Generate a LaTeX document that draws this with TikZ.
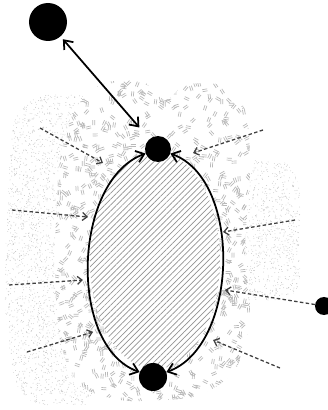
\documentclass[tikz,border=0pt]{standalone}
\usetikzlibrary{arrows.meta, patterns.meta, calc}
\tikzset{
    bead/.style={circle, fill=black, inner sep=0pt},
    pull/.style={{Straight Barb[length=2.3mm,width=3.6mm]}-{Straight Barb[length=2.3mm,width=3.6mm]}, line width=1.5pt},
    pushin/.style={-{Straight Barb[length=1.4mm,width=2.4mm]}, dash pattern=on 3pt off 2pt, line width=1.1pt, draw=black!75},
    grain/.style={draw=gray!55, line width=0.6pt},
    speck/.style={fill=gray!45}
}
\begin{document}
\begin{tikzpicture}[x=0.03cm, y=0.03cm]
  \useasboundingbox (0,0) rectangle (328,410);
  \pgfmathsetseed{11}
  \begin{scope}
    \clip plot[smooth cycle] coordinates {(15,290) (45,315) (90,310) (100,260) (95,160) (100,60) (85,5) (40,5) (15,30) (5,110) (8,210)};
    \foreach \i in {1,...,3000} {\fill[speck] (5+95*rnd, 5+310*rnd) circle (0.45);}
  \end{scope}
  \begin{scope}
    \clip plot[smooth cycle] coordinates {(240,245) (280,250) (300,220) (300,130) (280,110) (245,110) (235,160)};
    \foreach \i in {1,...,900} {\fill[speck] (235+65*rnd, 110+140*rnd) circle (0.45);}
  \end{scope}
  \begin{scope}
    \clip plot[smooth cycle] coordinates {(60,250) (75,300) (100,325) (140,330) (165,310) (185,325) (220,325) (245,300) (250,240) (245,160) (250,90) (235,40) (200,15) (160,10) (120,10) (80,25) (60,70) (55,150)};
    \fill[white] (50,5) rectangle (255,335);
    \foreach \i in {1,...,1100} {
      \pgfmathsetmacro{\gx}{50+205*rnd}
      \pgfmathsetmacro{\gy}{5+330*rnd}
      \pgfmathsetmacro{\ga}{180*rnd}
      \draw[grain] (\gx,\gy) -- ++(\ga:5) ($(\gx,\gy)+(\ga+90:2)$) -- ++(\ga:5);
    }
  \end{scope}
  \fill[white] (155,150) ellipse [x radius=65, y radius=109];
  \fill[pattern={Lines[angle=45, distance=1.25mm, line width=0.6pt]}, pattern color=gray!85] (155,150) ellipse [x radius=65, y radius=109];

  \node[bead, minimum size=1.14cm] (far) at (48,388) {};
  \node[bead, minimum size=0.78cm] (apex) at (158,261) {};
  \node[bead, minimum size=0.84cm] (base) at (153,33) {};
  \node[bead, minimum size=0.54cm] (side) at (324,104) {};

  \coordinate (l1s) at (40,282);  \coordinate (l1e) at (103,247);
  \coordinate (l2s) at (12,200);  \coordinate (l2e) at (88,193);
  \coordinate (l3s) at (9,125);   \coordinate (l3e) at (83,130);
  \coordinate (l4s) at (27,58);   \coordinate (l4e) at (93,78);
  \coordinate (r1s) at (263,280); \coordinate (r1e) at (193,257);
  \coordinate (r2s) at (295,190); \coordinate (r2e) at (223,178);
  \coordinate (r3e) at (225,120);
  \coordinate (r4s) at (280,42);  \coordinate (r4e) at (213,70);

  \draw[pull, shorten >=13pt, shorten <=3pt] (far) -- (apex);
  \draw[pull] (apex) to[out=200, in=160, looseness=0.9] (base);
  \draw[pull] (apex) to[out=-20, in=20, looseness=0.9] (base);
  \draw[pushin] (l1s) -- (l1e);
  \draw[pushin] (l2s) -- (l2e);
  \draw[pushin] (l3s) -- (l3e);
  \draw[pushin] (l4s) -- (l4e);
  \draw[pushin] (r1s) -- (r1e);
  \draw[pushin] (r2s) -- (r2e);
  \draw[pushin] (side) -- (r3e);
  \draw[pushin] (r4s) -- (r4e);
\end{tikzpicture}
\end{document}
